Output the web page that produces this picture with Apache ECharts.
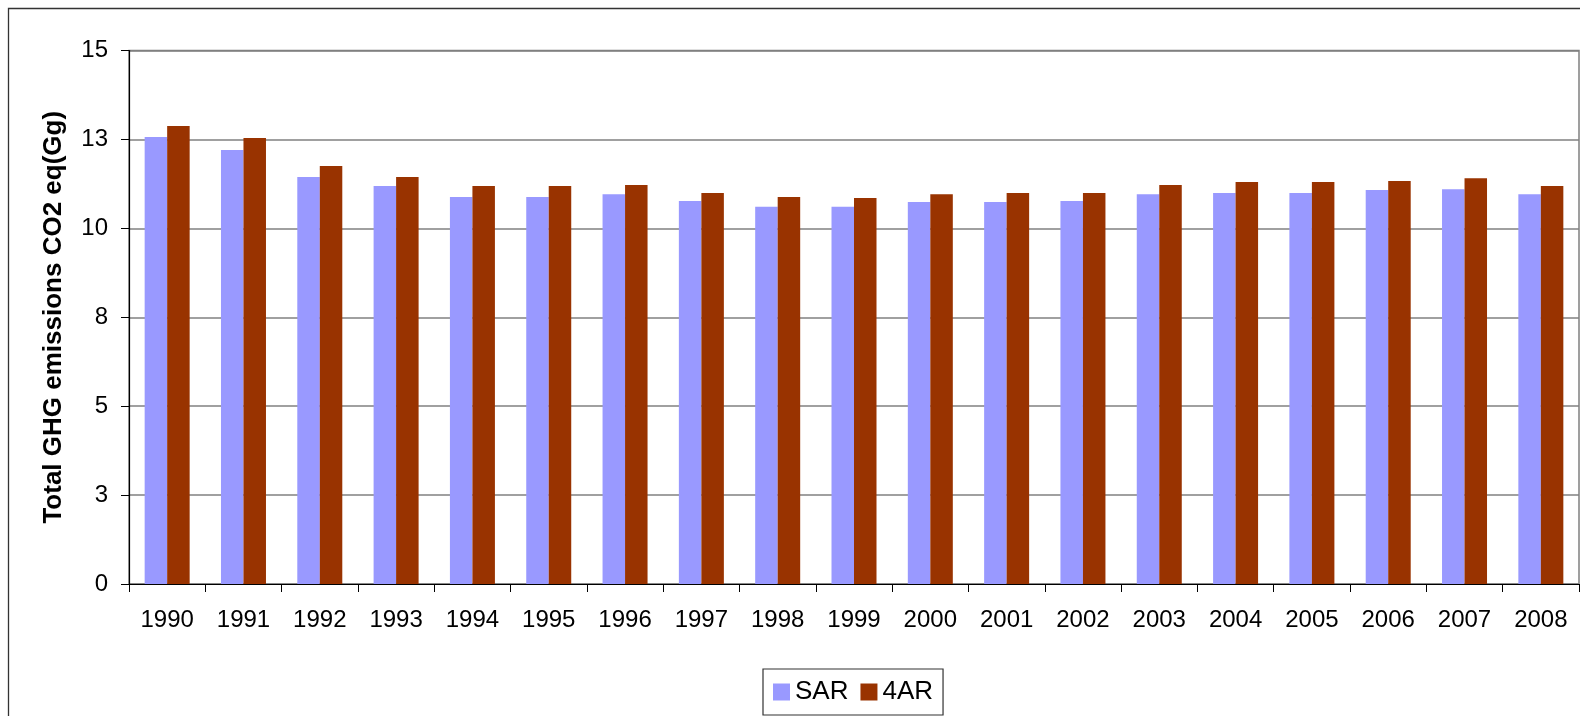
<!DOCTYPE html>
<html>
<head>
<meta charset="utf-8">
<script src="https://cdn.jsdelivr.net/npm/echarts@6/dist/echarts.min.js"></script>
<style>
html,body{margin:0;padding:0;background:#fff;}
#chart{width:1580px;height:716px;}
</style>
</head>
<body>
<div id="chart"></div>
<script>
const years = ['1990','1991','1992','1993','1994','1995','1996','1997','1998','1999','2000','2001','2002','2003','2004','2005','2006','2007','2008'];
const sar = [12.57,12.20,11.44,11.19,10.88,10.88,10.96,10.77,10.61,10.61,10.74,10.74,10.77,10.96,10.99,10.99,11.08,11.10,10.96];
const ar4 = [12.88,12.54,11.75,11.44,11.19,11.19,11.22,10.99,10.88,10.85,10.96,10.99,10.99,11.22,11.30,11.30,11.33,11.41,11.19];
const yTickLabels = ['0','3','5','8','10','13','15'];
const seriesNames = ['SAR','4AR'];
const yTitle = 'Total GHG emissions CO2 eq(Gg)';

const chart = echarts.init(document.getElementById('chart'), null, {renderer:'canvas'});
const font = 'Arial, "Liberation Sans", sans-serif';
chart.setOption({
  animation:false,
  backgroundColor:'#fff',
  graphic:[{
    type:'rect', shape:{x:8.5,y:8.5,width:1620,height:760},
    style:{fill:'none',stroke:'#333',lineWidth:1.3}, z:-1
  }],
  grid:{left:129,right:1,top:50.5,bottom:132,show:true,borderColor:'#808080',borderWidth:1.5,containLabel:false},
  legend:{
    data:seriesNames, left:763, top:669,
    orient:'horizontal',
    itemWidth:17,itemHeight:17,itemGap:12,
    padding:[10,10,10,10],
    borderColor:'#333',borderWidth:1.2,
    icon:'rect',
    textStyle:{fontFamily:font,fontSize:26,color:'#000',lineHeight:26}
  },
  xAxis:{
    type:'category', data:years,
    axisLine:{lineStyle:{color:'#000',width:1.2}},
    axisTick:{show:true,length:8,lineStyle:{color:'#000'}},
    axisLabel:{fontFamily:font,fontSize:24,color:'#000',margin:24,interval:0}
  },
  yAxis:{
    type:'value', min:0, max:15, interval:2.5,
    name:yTitle, nameLocation:'middle', nameGap:62,
    nameTextStyle:{fontFamily:font,fontSize:26,fontWeight:'bold',color:'#000'},
    axisLine:{show:true,lineStyle:{color:'#000',width:1.2}},
    axisTick:{show:true,length:8,lineStyle:{color:'#000'}},
    axisLabel:{fontFamily:font,fontSize:24,color:'#000',margin:21,
      formatter:function(v){return yTickLabels[Math.round(v/2.5)];}},
    splitLine:{show:true,lineStyle:{color:'#808080',width:1.5}}
  },
  series:[
    {name:seriesNames[0],type:'bar',data:sar,barWidth:22.5,barGap:'0%',itemStyle:{color:'#9999FF'}},
    {name:seriesNames[1],type:'bar',data:ar4,barWidth:22.5,barGap:'0%',itemStyle:{color:'#993300'}}
  ]
});
</script>
</body>
</html>
